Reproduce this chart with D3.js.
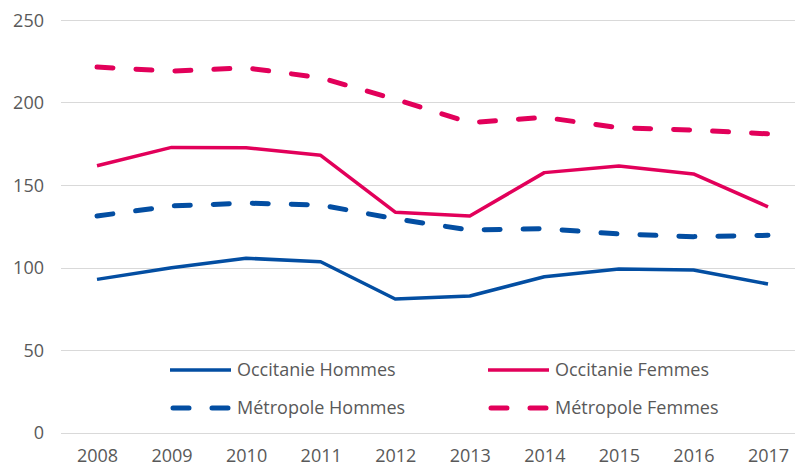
<!DOCTYPE html>
<html><head><meta charset="utf-8">
<script src="https://cdn.jsdelivr.net/npm/d3@7"></script>
<style>body{margin:0;background:#fff}svg{display:block}text{font-family:"Open Sans",sans-serif;fill:#595959}</style>
</head><body><svg id="c" width="795" height="468"></svg>
<script>
const years = ["2008","2009","2010","2011","2012","2013","2014","2015","2016","2017"];
const occitanieHommes = [92.8, 99.9, 105.6, 103.5, 80.9, 82.7, 94.4, 99.1, 98.5, 90.0];
const occitanieFemmes = [161.7, 172.8, 172.6, 168.0, 133.5, 131.2, 157.5, 161.5, 156.7, 136.8];
const metropoleHommes = [131.2, 137.3, 139.0, 137.9, 129.5, 122.7, 123.5, 120.3, 118.7, 119.5];
const metropoleFemmes = [221.5, 219.0, 221.0, 215.0, 202.0, 187.8, 191.0, 184.7, 183.3, 181.0];
const yTicks = [0, 50, 100, 150, 200, 250];
const seriesNames = ["Occitanie Hommes", "Occitanie Femmes", "Métropole Hommes", "Métropole Femmes"];

const blue = "#034ea2", pink = "#e2005a";
const series = [
  {name: seriesNames[0], values: occitanieHommes, color: blue, dashed: false},
  {name: seriesNames[1], values: occitanieFemmes, color: pink, dashed: false},
  {name: seriesNames[2], values: metropoleHommes, color: blue, dashed: true},
  {name: seriesNames[3], values: metropoleFemmes, color: pink, dashed: true}
];

const svg = d3.select("#c");
const x = d3.scalePoint().domain(years).range([97, 768]);
const y = d3.scaleLinear().domain([0, 250]).range([432.5, 20]);

// gridlines
svg.append("g").selectAll("line").data(yTicks).join("line")
  .attr("x1", 61).attr("x2", 795)
  .attr("y1", d => Math.round(y(d)) + 0.5).attr("y2", d => Math.round(y(d)) + 0.5)
  .attr("stroke", "#d9d9d9").attr("stroke-width", 1);

// y axis labels
const yAxis = d3.axisLeft(y).tickValues(yTicks).tickSize(0).tickPadding(0);
const gy = svg.append("g").attr("transform", "translate(44,0)").call(yAxis);
gy.select(".domain").remove();
gy.selectAll("text").attr("font-size", 18).attr("fill", "#595959").style("font-family", '"Open Sans",sans-serif').attr("dy", "0.35em");

// x axis labels
const xAxis = d3.axisBottom(x).tickSize(0).tickPadding(0);
const gx = svg.append("g").attr("transform", "translate(0,449)").call(xAxis);
gx.select(".domain").remove();
gx.selectAll("text").attr("font-size", 18).attr("fill", "#595959").style("font-family", '"Open Sans",sans-serif').attr("dy", "0.7em");

// lines
const line = d3.line().x((d, i) => x(years[i])).y(d => y(d));
series.forEach(s => {
  svg.append("path").datum(s.values)
    .attr("d", line)
    .attr("fill", "none")
    .attr("stroke", s.color)
    .attr("stroke-width", s.dashed ? 5 : 3.5)
    .attr("stroke-linejoin", "round")
    .attr("stroke-linecap", s.dashed ? "round" : "butt")
    .attr("stroke-dasharray", s.dashed ? "16,23" : null);
});

// legend
const legendPos = [[170, 370], [488, 370], [170, 408], [488, 408]];
series.forEach((s, i) => {
  const [lx, ly] = legendPos[i];
  const g = svg.append("g").attr("transform", `translate(${lx},${ly})`);
  if (s.dashed) {
    g.append("line").attr("x1", 3).attr("x2", 58).attr("y1", 0).attr("y2", 0)
      .attr("stroke", s.color).attr("stroke-width", 5).attr("stroke-linecap", "round")
      .attr("stroke-dasharray", "16,23");
  } else {
    g.append("line").attr("x1", 0).attr("x2", 61).attr("y1", 0).attr("y2", 0)
      .attr("stroke", s.color).attr("stroke-width", 3.5);
  }
  g.append("text").attr("x", 67).attr("y", 0).attr("dy", "0.35em")
    .attr("font-size", 18).text(s.name);
});
</script></body></html>
